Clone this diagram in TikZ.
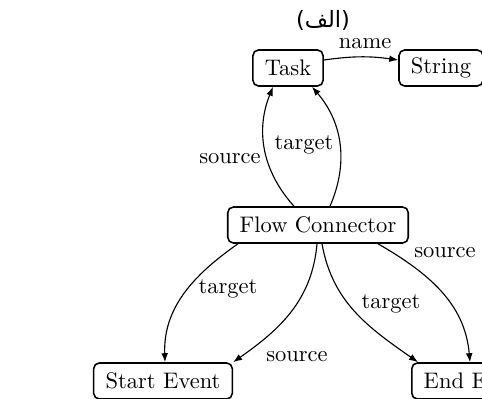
\documentclass[tikz,border=0pt]{standalone}
\usepackage{fontspec}
\newfontfamily\arabicfont[Script=Arabic]{DejaVu Sans}
\TeXXeTstate=1
\usetikzlibrary{arrows.meta,calc}
\tikzset{
  box/.style={draw, rounded corners=2.5pt, line width=0.7pt, inner xsep=5.3pt, minimum height=16pt},
  lbl/.style={inner sep=1pt},
  conn/.style={line width=0.5pt, -{Latex[length=4pt,width=3pt]}},
}
\begin{document}
\begin{tikzpicture}[x=0.4444pt,y=0.4444pt]
\path[use as bounding box] (0,0) rectangle (482,399);
\clip (0,0) rectangle (482,399);
\node[lbl] (title) at (323,379) {\arabicfont\beginR(الف)\endR};
\node[box] (task) at (288,331) {Task};
\node[box] (string) at (441,331) {String};
\node[box] (fc) at (318,174) {Flow Connector};
\node[box] (start) at (163,18) {Start Event};
\node[box, anchor=west] (end) at (411,18) {End Event};

\draw[conn] ($(task.east)+(0,8)$) to[bend left=8] ($(string.west)+(0,8)$);
\draw[conn] ($(fc.north)+(-24,0)$) to[bend left=32] ($(task.south)+(-15,0)$);
\draw[conn] ($(fc.north)+(12,0)$) to[bend right=32] ($(task.south)+(24,0)$);
\draw[conn] ($(fc.south)+(-80,0)$) to[out=-145,in=92] ($(start.north)+(2,0)$);
\draw[conn] ($(fc.south)+(-1,0)$) to[out=-95,in=35] (start.north east);
\draw[conn] ($(fc.south)+(4,0)$) to[out=-80,in=145] ($(end.north west)+(7,0)$);
\draw[conn] ($(fc.south)+(60,0)$) to[out=-30,in=95] ($(end.north west)+(59,0)$);

\node[lbl] (lname) at (365,355) {name};
\node[lbl] (ls1) at (230,240) {source};
\node[lbl] (lt1) at (304,254) {target};
\node[lbl] (lt2) at (228,110) {target};
\node[lbl] (ls2) at (297,42) {source};
\node[lbl] (lt3) at (391,95) {target};
\node[lbl] (ls3) at (445,146) {source};
\end{tikzpicture}
\end{document}
